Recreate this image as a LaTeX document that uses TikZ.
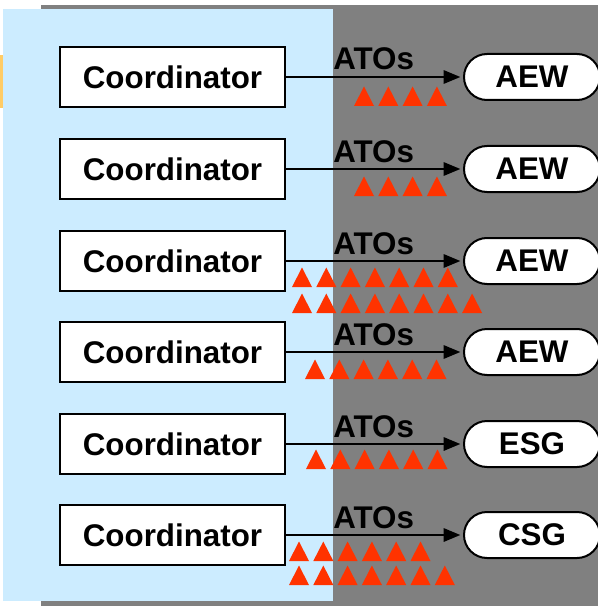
\documentclass[tikz,border=0pt]{standalone}
\usepackage{fontspec}
\setmainfont{Liberation Sans}
\usetikzlibrary{arrows.meta,shapes.misc}

\definecolor{panelgray}{HTML}{808080}
\definecolor{panelblue}{HTML}{CCECFF}
\definecolor{tabamber}{HTML}{FFCC66}
\definecolor{atored}{HTML}{FF3300}

% one row of ATO markers: left x, baseline y, count
\newcommand\atorow[3]{%
  \foreach \k in {1,...,#3}
    \fill[atored] ({#1+(\k-1)*24.3},#2) -- ++(10,-19.5) -- ++(10,19.5) -- cycle;}

\begin{document}
\begin{tikzpicture}[x=0.75pt,y=-0.75pt,
  every node/.style={font=\fontsize{23.5}{27}\selectfont\bfseries},
  coordbox/.style={draw=black,line width=1.5pt,fill=white,
    minimum width=168.75pt,minimum height=45pt,inner sep=0pt},
  cell/.style={rounded rectangle,draw=black,line width=1.5pt,fill=white,
    minimum width=102pt,minimum height=34.5pt,inner sep=0pt},
  link/.style={line width=1.5pt,-{Triangle[length=12.5pt,width=10pt]},shorten >=2pt},
  tag/.style={inner sep=0pt,anchor=base west}]
\useasboundingbox (0,0) rectangle (597,606);

% background panels
\fill[panelgray] (41,5) rectangle (620,620);
\fill[panelblue] (3,9) rectangle (333,601);
\fill[tabamber] (0,55) rectangle (3,108);

% rows: coordinator -> ATOs -> service
\foreach \r/\y/\t in {1/77/AEW,2/169/AEW,3/261/AEW,4/352/AEW,5/444/ESG,6/535/CSG}{
  \node[coordbox] (c\r) at (172.5,\y) {Coordinator};
  \node[cell] (s\r) at (532,\y) {\t};
  \draw[link] (c\r.east) -- (s\r.west);
  \node[tag] (a\r) at (333,{\y-7}) {ATOs};
}

% ATO markers
\atorow{354}{106}{4}
\atorow{354}{196}{4}
\atorow{292}{287}{7}
\atorow{292}{313}{8}
\atorow{305}{379}{6}
\atorow{306}{469}{6}
\atorow{289}{561}{6}
\atorow{289}{585}{7}
\end{tikzpicture}
\end{document}
